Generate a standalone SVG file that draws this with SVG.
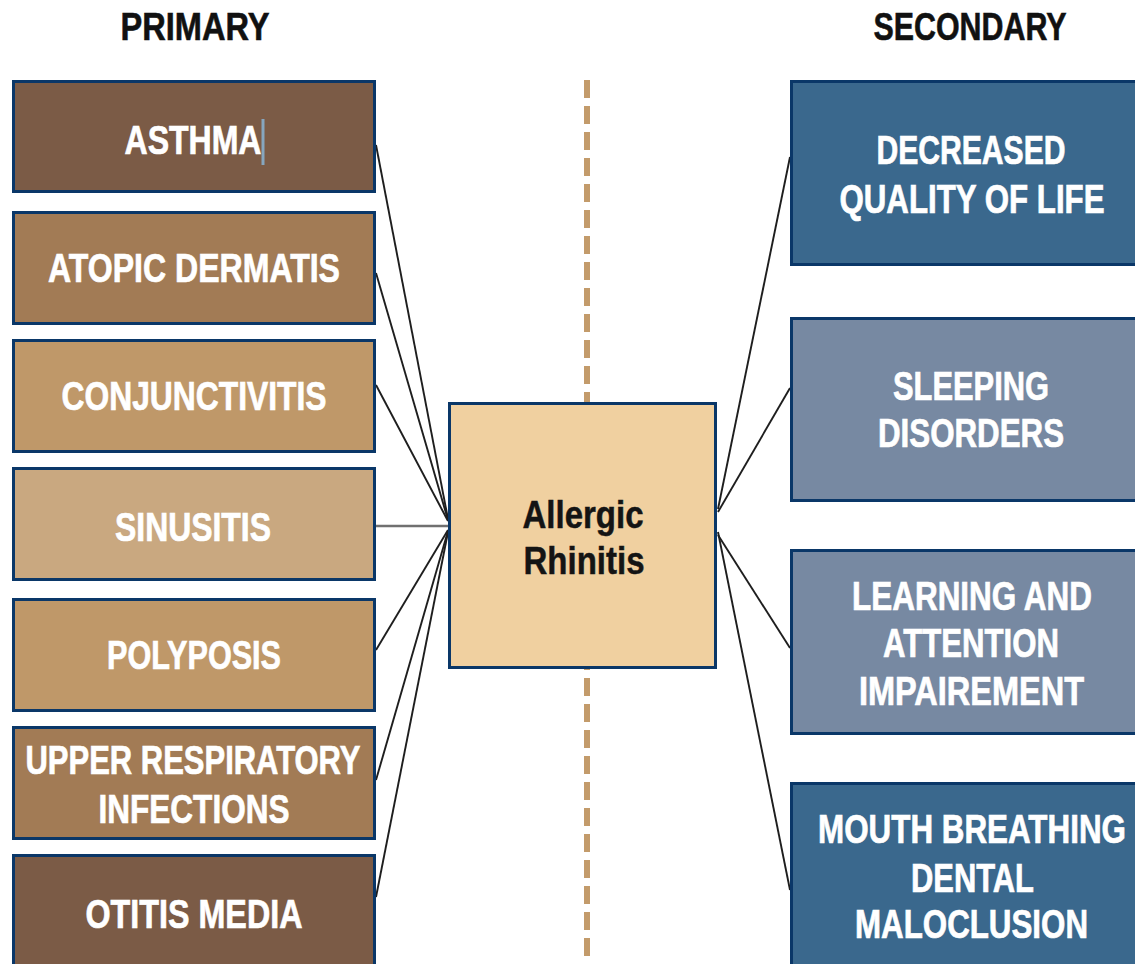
<svg xmlns="http://www.w3.org/2000/svg" width="1135" height="964" viewBox="0 0 1135 964">
<style>
.box{stroke:#0A3768;stroke-width:3}
.lbl{font-family:"Liberation Sans",Arial,sans-serif;font-weight:bold;font-size:40px;fill:#ffffff;stroke:#ffffff;stroke-width:0.7;text-anchor:middle}
.hdr{font-family:"Liberation Sans",Arial,sans-serif;font-weight:bold;font-size:39px;fill:#111111;stroke:#111111;stroke-width:0.6;text-anchor:middle}
.ctr{font-family:"Liberation Sans",Arial,sans-serif;font-weight:bold;font-size:39px;fill:#141414;stroke:#141414;stroke-width:0.5;text-anchor:middle}
.c1{fill:#7B5B46}.c2{fill:#A27B55}.c3{fill:#BF9869}.c4{fill:#C9A880}
.b1{fill:#3A688D}.b2{fill:#7789A2}
.ln{stroke:#1E1E1E;stroke-width:1.9;fill:none}
</style>
<rect width="1135" height="964" fill="#ffffff"/>
<g id="headers">
<text class="hdr" x="195" y="40" textLength="149" lengthAdjust="spacingAndGlyphs">PRIMARY</text>
<text class="hdr" x="970" y="40" textLength="193" lengthAdjust="spacingAndGlyphs">SECONDARY</text>
</g>
<line id="divider" x1="587" y1="80" x2="587" y2="964" stroke="#C39B6B" stroke-width="6" stroke-dasharray="18 8"/>
<g id="connectors">
<line class="ln" x1="376" y1="145" x2="448" y2="519"/>
<line class="ln" x1="376" y1="273" x2="448" y2="520"/>
<line class="ln" x1="376" y1="385" x2="448" y2="521"/>
<line x1="376" y1="526" x2="448" y2="526" stroke="#707070" stroke-width="2.4"/>
<line class="ln" x1="376" y1="650" x2="448" y2="530"/>
<line class="ln" x1="376" y1="780" x2="448" y2="531"/>
<line class="ln" x1="376" y1="897" x2="448" y2="532"/>
<line class="ln" x1="718" y1="509" x2="790" y2="157"/>
<line class="ln" x1="718" y1="512" x2="790" y2="388"/>
<line class="ln" x1="718" y1="535" x2="790" y2="648"/>
<line class="ln" x1="718" y1="532" x2="790" y2="890"/>
</g>
<g id="asthma">
<rect class="box c1" x="13.5" y="81.5" width="361" height="110"/>
<text class="lbl" x="193" y="154" textLength="137" lengthAdjust="spacingAndGlyphs">ASTHMA</text>
<rect x="261.5" y="119" width="3" height="46" fill="#86A6BE"/>
</g>
<g id="atopic">
<rect class="box c2" x="13.5" y="212.5" width="361" height="111"/>
<text class="lbl" x="194" y="282" textLength="292" lengthAdjust="spacingAndGlyphs">ATOPIC DERMATIS</text>
</g>
<g id="conjunctivitis">
<rect class="box c3" x="13.5" y="340.5" width="361" height="111"/>
<text class="lbl" x="194" y="410" textLength="265" lengthAdjust="spacingAndGlyphs">CONJUNCTIVITIS</text>
</g>
<g id="sinusitis">
<rect class="box c4" x="13.5" y="468.5" width="361" height="111"/>
<text class="lbl" x="193" y="541" textLength="156" lengthAdjust="spacingAndGlyphs">SINUSITIS</text>
</g>
<g id="polyposis">
<rect class="box c3" x="13.5" y="599.5" width="361" height="111"/>
<text class="lbl" x="194" y="669" textLength="174" lengthAdjust="spacingAndGlyphs">POLYPOSIS</text>
</g>
<g id="upper-respiratory">
<rect class="box c2" x="13.5" y="727.5" width="361" height="111"/>
<text class="lbl" x="193" y="774" textLength="335" lengthAdjust="spacingAndGlyphs">UPPER RESPIRATORY</text>
<text class="lbl" x="194" y="823" textLength="191" lengthAdjust="spacingAndGlyphs">INFECTIONS</text>
</g>
<g id="otitis">
<rect class="box c1" x="13.5" y="855.5" width="361" height="130"/>
<text class="lbl" x="194" y="928" textLength="217" lengthAdjust="spacingAndGlyphs">OTITIS MEDIA</text>
</g>
<g id="allergic-rhinitis">
<rect class="box" x="449.5" y="403.5" width="266" height="264" fill="#F0D0A0"/>
<text class="ctr" x="583" y="528" textLength="121" lengthAdjust="spacingAndGlyphs">Allergic</text>
<text class="ctr" x="584" y="574" textLength="121" lengthAdjust="spacingAndGlyphs">Rhinitis</text>
</g>
<g id="quality-of-life">
<rect class="box b1" x="791.5" y="81.5" width="345" height="183"/>
<text class="lbl" x="971" y="164" textLength="189" lengthAdjust="spacingAndGlyphs">DECREASED</text>
<text class="lbl" x="972" y="213" textLength="265" lengthAdjust="spacingAndGlyphs">QUALITY OF LIFE</text>
</g>
<g id="sleeping">
<rect class="box b2" x="791.5" y="318.5" width="345" height="182"/>
<text class="lbl" x="971" y="400" textLength="156" lengthAdjust="spacingAndGlyphs">SLEEPING</text>
<text class="lbl" x="971" y="447" textLength="186" lengthAdjust="spacingAndGlyphs">DISORDERS</text>
</g>
<g id="learning">
<rect class="box b2" x="791.5" y="550.5" width="345" height="183"/>
<text class="lbl" x="972" y="610" textLength="240" lengthAdjust="spacingAndGlyphs">LEARNING AND</text>
<text class="lbl" x="971" y="657" textLength="176" lengthAdjust="spacingAndGlyphs">ATTENTION</text>
<text class="lbl" x="971.5" y="705" textLength="225" lengthAdjust="spacingAndGlyphs">IMPAIREMENT</text>
</g>
<g id="mouth-breathing">
<rect class="box b1" x="791.5" y="783.5" width="345" height="200"/>
<text class="lbl" x="972" y="843" textLength="308" lengthAdjust="spacingAndGlyphs">MOUTH BREATHING</text>
<text class="lbl" x="972.5" y="892" textLength="123" lengthAdjust="spacingAndGlyphs">DENTAL</text>
<text class="lbl" x="971.5" y="938" textLength="233" lengthAdjust="spacingAndGlyphs">MALOCLUSION</text>
</g>
</svg>
